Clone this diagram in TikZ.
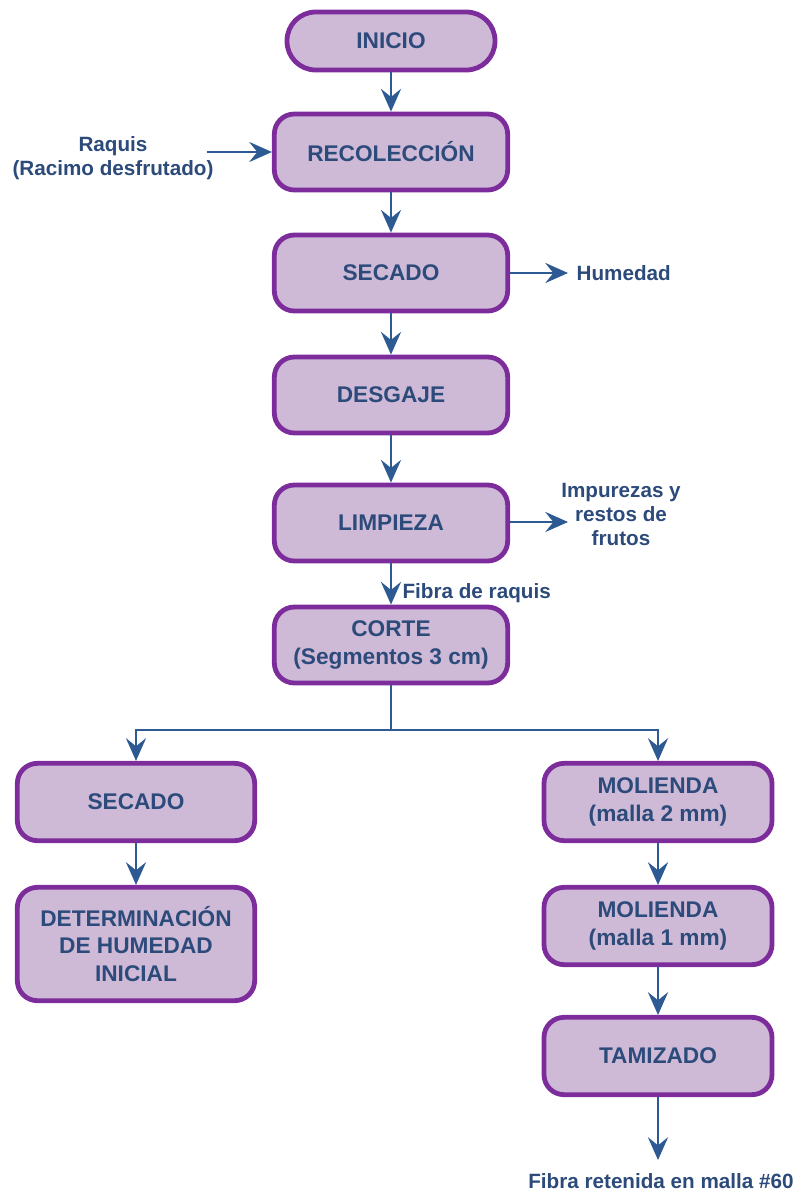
\documentclass[tikz,border=0pt]{standalone}
\usepackage{fontspec}
\setmainfont{Liberation Sans}
\usetikzlibrary{arrows.meta}
\definecolor{boxfill}{HTML}{CEBAD7}
\definecolor{boxline}{HTML}{7D2C9C}
\definecolor{txtblue}{HTML}{2C4A7A}
\definecolor{arrblue}{HTML}{2D5A92}
\begin{document}
\begin{tikzpicture}[x=0.75pt,y=-0.75pt,
  procbox/.style={draw=boxline, line width=3.6pt, fill=boxfill, rounded corners=15pt,
    text=txtblue, font=\fontsize{17}{20.6}\selectfont\bfseries, align=center,
    minimum width=175pt, minimum height=57pt, inner sep=2pt},
  startbox/.style={procbox, rounded corners=21.5pt, minimum width=156pt, minimum height=43.5pt},
  sidelabel/.style={text=txtblue, font=\fontsize{15.5}{18}\selectfont\bfseries, align=center, inner sep=1pt},
  flow/.style={draw=arrblue, line width=2.2pt, -{Stealth[length=17pt,width=15pt,inset=6pt]}},
  plain/.style={draw=arrblue, line width=2.2pt}]
\useasboundingbox (0,0) rectangle (802,1196);

% main column
\node[startbox] (inicio) at (391,41) {INICIO};
\node[procbox] (recol) at (391,152) {RECOLECCIÓN};
\node[procbox] (secado) at (391,273) {SECADO};
\node[procbox] (desgaje) at (391,395) {DESGAJE};
\node[procbox] (limp) at (391,523) {LIMPIEZA};
\node[procbox] (corte) at (391,645) {CORTE\\(Segmentos 3 cm)};

% left branch
\node[procbox, minimum width=178pt, minimum height=58pt] (sec2) at (136,802) {SECADO};
\node[procbox, minimum width=178pt, minimum height=85pt] (det) at (136,944) {DETERMINACIÓN\\DE HUMEDAD\\INICIAL};

% right branch
\node[procbox, minimum width=171pt, minimum height=58pt] (mol2) at (658,802) {MOLIENDA\\(malla 2 mm)};
\node[procbox, minimum width=171pt, minimum height=58pt] (mol1) at (658,926) {MOLIENDA\\(malla 1 mm)};
\node[procbox, minimum width=171pt, minimum height=58pt] (tam) at (658,1056) {TAMIZADO};

% side labels
\node[sidelabel] (raq) at (113,158) {Raquis\\(Racimo desfrutado)};
\node[sidelabel, anchor=west] (hum) at (575,273) {Humedad};
\node[sidelabel] (imp) at (621,514) {Impurezas y\\restos de\\frutos};
\node[sidelabel, anchor=west] (fib) at (401,593) {Fibra de raquis};
\node[sidelabel] (ret) at (661,1181) {Fibra retenida en malla \#60};

\coordinate (raqin) at (207,152);
\coordinate (humout) at (568,273);
\coordinate (impout) at (568,522);
\coordinate (split) at (391,730);
\coordinate (retout) at (658,1160);

% connectors
\draw[flow] (inicio) -- (recol);
\draw[flow] (raqin) -- (recol.west);
\draw[flow] (recol) -- (secado);
\draw[flow] (secado.east) -- (humout);
\draw[flow] (secado) -- (desgaje);
\draw[flow] (desgaje) -- (limp);
\draw[flow] (limp.east |- impout) -- (impout);
\draw[flow] (limp) -- (corte);
\draw[plain] (corte.south) -- (split);
\draw[flow] (split) -| (sec2.north);
\draw[flow] (split) -| (mol2.north);
\draw[flow] (sec2) -- (det);
\draw[flow] (mol2) -- (mol1);
\draw[flow] (mol1) -- (tam);
\draw[flow] (tam) -- (retout);
\end{tikzpicture}
\end{document}
